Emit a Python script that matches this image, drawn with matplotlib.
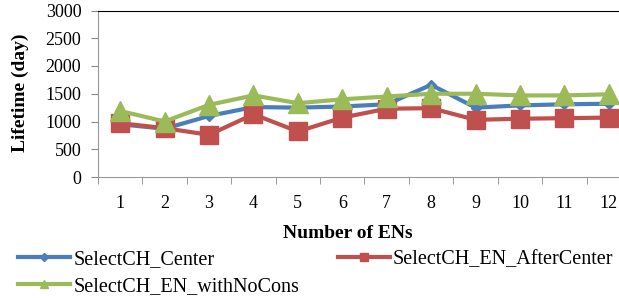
import numpy as np
import matplotlib
matplotlib.use("Agg")
from matplotlib import pyplot as plt
from matplotlib.lines import Line2D

# data
ens = [1, 2, 3, 4, 5, 6, 7, 8, 9, 10, 11, 12]
center = [950, 870, 1100, 1260, 1250, 1270, 1310, 1660, 1250, 1290, 1310, 1320]
after_center = [970, 880, 760, 1130, 820, 1070, 1230, 1240, 1030, 1050, 1060, 1070]
no_cons = [1190, 1000, 1300, 1470, 1330, 1400, 1450, 1500, 1500, 1470, 1470, 1490]
labels = ["SelectCH_Center", "SelectCH_EN_AfterCenter", "SelectCH_EN_withNoCons"]

blue = "#4A7EBB"
red = "#C0504D"
green = "#9BBB59"

plt.rcParams['font.family'] = ['Liberation Serif', 'DejaVu Serif']

W, H = 619, 298
fig = plt.figure(figsize=(W / 100, H / 100), dpi=100)
# plot area runs past the right edge, like the cropped original
left, right, top, bottom = 98, 631, 10.5, 177
ax = fig.add_axes([left / W, 1 - bottom / H, (right - left) / W, (bottom - top) / H])

ax.plot(ens, center, color=blue, lw=3, marker="D", ms=5, zorder=3)
ax.plot(ens, after_center, color=red, lw=3, marker="s", ms=13, zorder=4)
ax.plot(ens, no_cons, color=green, lw=3, marker="^", ms=15, zorder=5)

ax.set_xlim(0.5, 12.5)
ax.set_ylim(0, 3000)
ax.set_yticks(np.arange(0, 3001, 500))
ax.set_xticks(ens)
ax.set_xticks(np.arange(0.5, 12.6, 1), minor=True)
ax.tick_params(axis="x", which="major", length=0, labelsize=13, pad=13)
ax.tick_params(axis="x", which="minor", length=5, color="#888888")
ax.tick_params(axis="y", length=5, color="#888888", labelsize=13, pad=7)

for s in ["left", "bottom"]:
    ax.spines[s].set_color("#999999")
ax.spines["right"].set_visible(False)
ax.spines["top"].set_color("black")

fig.text(20 / W, 1 - 93 / H, "Lifetime (day)", rotation=90, fontsize=14,
         fontweight="bold", ha="center", va="center")
fig.text(348 / W, 1 - 233 / H, "Number of ENs", fontsize=14,
         fontweight="bold", ha="center", va="center")

h_center = Line2D([], [], color=blue, lw=3, marker="D", ms=4)
h_after = Line2D([], [], color=red, lw=3, marker="s", ms=6)
h_nocons = Line2D([], [], color=green, lw=3, marker="^", ms=6)
# column-major fill: column 1 holds Center and withNoCons, column 2 AfterCenter
fig.legend([h_center, h_nocons, h_after], [labels[0], labels[2], labels[1]],
           loc="upper left", bbox_to_anchor=(18 / W, 1 - 250 / H),
           ncol=2, frameon=False, fontsize=14.5, handlelength=2.6, handletextpad=0.15,
           columnspacing=1.9, borderpad=0, borderaxespad=0, labelspacing=0.4)

fig.savefig("out.png", dpi=100)
